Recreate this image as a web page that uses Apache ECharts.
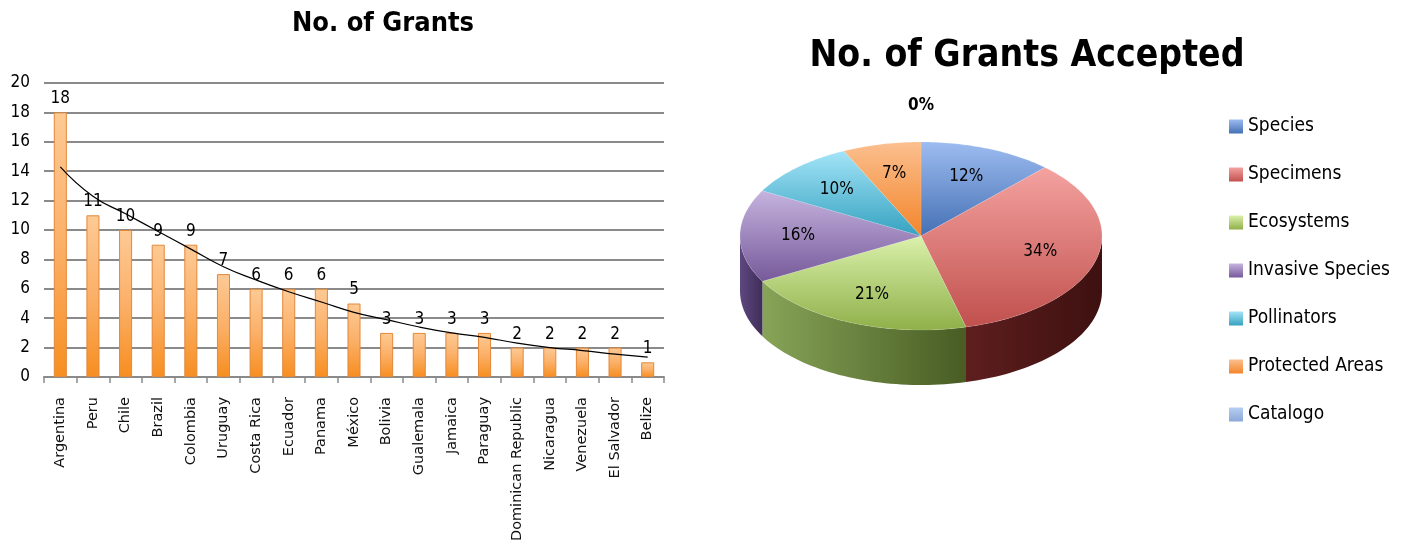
<!DOCTYPE html>
<html>
<head>
<meta charset="utf-8">
<script src="https://cdn.jsdelivr.net/npm/echarts@6/dist/echarts.min.js"></script>
<style>
html,body{margin:0;padding:0;background:#fff;}
#chart{width:1408px;height:548px;}
</style>
</head>
<body>
<div id="chart"></div>
<script>
// ---- Bar chart data ----
const countries = ['Argentina','Peru','Chile','Brazil','Colombia','Uruguay','Costa Rica','Ecuador','Panama','México','Bolivia','Gualemala','Jamaica','Paraguay','Dominican Republic','Nicaragua','Venezuela','El Salvador','Belize'];
const grants = [18,11,10,9,9,7,6,6,6,5,3,3,3,3,2,2,2,2,1];
// trend line values
const trend = [14.3,12.3,11.1,9.9,8.7,7.5,6.6,5.8,5.1,4.4,3.9,3.4,3.0,2.7,2.3,2.0,1.8,1.55,1.35];
const yTicks = {min:0, max:20, interval:2};

// ---- Pie data ----
const topics = ['Species','Specimens','Ecosystems','Invasive Species','Pollinators','Protected Areas','Catalogo'];
const shares = [12,34,21,16,10,7,0];

const NARROW = '"Liberation Sans Narrow","DejaVu Sans Condensed","Liberation Sans",sans-serif';

const lightCols = ['#9dbcf0','#f4a2a0','#daf1ab','#c6b4df','#a4e4f7','#fbbf8f','#b8cef2'];
const baseCols  = ['#4470b4','#c0504d','#8fb049','#76599a','#35a2c0','#f3852a','#8aa8d8'];
const sideCols  = [['#3a5f96','#2a4670'],['#5e1e1e','#3e1010'],['#87a458','#485c23'],['#5e4780','#3f2e58'],['#2c8096','#1f5e70'],['#c06a20','#8a4a14'],['#6f88b0','#50688c']];

const chart = echarts.init(document.getElementById('chart'));

const P = {cx: 921, cy: 236, rx: 181, ry: 94, depth: 55};
const totalShare = shares.reduce((a,b)=>a+b,0);

function pt(t, dy){
  return [P.cx + P.rx*Math.sin(t), P.cy - P.ry*Math.cos(t) + (dy||0)];
}

function renderSlice(params, api){
  const i = params.dataIndex;
  const v = api.value(0);
  let before = 0;
  for (let k=0;k<i;k++) before += shares[k];
  const a0 = before/totalShare*2*Math.PI;
  const a1 = a0 + v/totalShare*2*Math.PI;
  const children = [];
  const pct = Math.round(v/totalShare*100) + '%';
  if (v > 0) {
    const w0 = Math.max(a0, Math.PI/2), w1 = Math.min(a1, 3*Math.PI/2);
    if (w1 > w0) {
      const n = Math.max(4, Math.ceil((w1-w0)/0.03));
      const topPts = [], botPts = [];
      for (let s=0;s<=n;s++){
        const t = w0 + (w1-w0)*s/n;
        topPts.push(pt(t,0));
        botPts.push(pt(t,P.depth));
      }
      children.push({
        type:'polygon', z2:0,
        shape:{points: topPts.concat(botPts.reverse())},
        style:{fill:{type:'linear',x:0,y:0,x2:1,y2:0,colorStops:[{offset:0,color:sideCols[i][0]},{offset:1,color:sideCols[i][1]}]}}
      });
    }
    const n = Math.max(4, Math.ceil((a1-a0)/0.02));
    const pts = [[P.cx,P.cy]];
    for (let s=0;s<=n;s++) pts.push(pt(a0+(a1-a0)*s/n,0));
    children.push({
      type:'polygon', z2:1,
      shape:{points: pts},
      style:{fill:{type:'linear',x:0,y:0,x2:0,y2:1,colorStops:[{offset:0,color:lightCols[i]},{offset:1,color:baseCols[i]}]},
             stroke:'rgba(255,255,255,0.25)', lineWidth:0.5}
    });
    const m = (a0+a1)/2;
    const lp = [P.cx + 0.68*P.rx*Math.sin(m), P.cy - 0.68*P.ry*Math.cos(m)];
    children.push({type:'text', z2:2, x:lp[0], y:lp[1],
      style:{text:pct, fill:'#000', font:'17px '+NARROW, align:'center', verticalAlign:'middle'}});
  } else {
    const lp = pt(a0, -36);
    children.push({type:'text', z2:2, x:lp[0], y:lp[1],
      style:{text:pct, fill:'#000', font:'bold 17px '+NARROW, align:'center', verticalAlign:'middle'}});
  }
  return {type:'group', children: children};
}

const option = {
  animation:false,
  title:[
    {text:'No. of Grants', left:378, top:5, textAlign:'center',
     textStyle:{fontFamily:NARROW, fontSize:27, fontWeight:'bold', color:'#000'}},
    {text:'No. of Grants Accepted', left:1022, top:33, textAlign:'center',
     textStyle:{fontFamily:NARROW, fontSize:37, fontWeight:'bold', color:'#000'}}
  ],
  legend:{
    orient:'vertical', left:1224, top:112, itemWidth:14, itemHeight:14, itemGap:29,
    icon:'rect',
    data: topics,
    textStyle:{fontFamily:NARROW, fontSize:19, color:'#000'}
  },
  grid:{left:44, right:744, top:83, bottom:171},
  xAxis:{
    type:'category', data:countries,
    axisLine:{lineStyle:{color:'#8a8a8a', width:2}},
    axisTick:{show:true, length:6, lineStyle:{color:'#8a8a8a', width:1.5}},
    axisLabel:{rotate:90, margin:20, fontFamily:'"DejaVu Sans",sans-serif', fontSize:14.5, color:'#111'}
  },
  yAxis:{
    type:'value', min:yTicks.min, max:yTicks.max, interval:yTicks.interval,
    axisLine:{show:false}, axisTick:{show:false},
    splitLine:{lineStyle:{color:'#8a8a8a', width:1.8}},
    axisLabel:{margin:14, fontFamily:NARROW, fontSize:17, color:'#000'}
  },
  series:[
    {
      type:'bar', data:grants, barWidth:'40%',
      itemStyle:{
        color:{type:'linear',x:0,y:0,x2:0,y2:1,colorStops:[{offset:0,color:'#fdca95'},{offset:0.5,color:'#fbb068'},{offset:1,color:'#f78e20'}]},
        borderColor:'#e3883a', borderWidth:1
      },
      label:{show:true, position:'top', distance:5, fontFamily:NARROW, fontSize:17, color:'#000'}
    },
    {
      type:'line', data:trend, smooth:true, symbol:'none', z:5,
      lineStyle:{color:'#000', width:1.2}
    },
    {
      type:'custom', coordinateSystem:'none', data:shares,
      renderItem: renderSlice, silent:true
    },
    {
      type:'pie', radius:[0,0], center:[P.cx,P.cy], silent:true,
      label:{show:false}, labelLine:{show:false},
      data: topics.map((t,i)=>({name:t, value:shares[i],
        itemStyle:{color:{type:'linear',x:0,y:0,x2:0,y2:1,colorStops:[{offset:0,color:lightCols[i]},{offset:1,color:baseCols[i]}]}}}))
    }
  ]
};
chart.setOption(option);
</script>
</body>
</html>
